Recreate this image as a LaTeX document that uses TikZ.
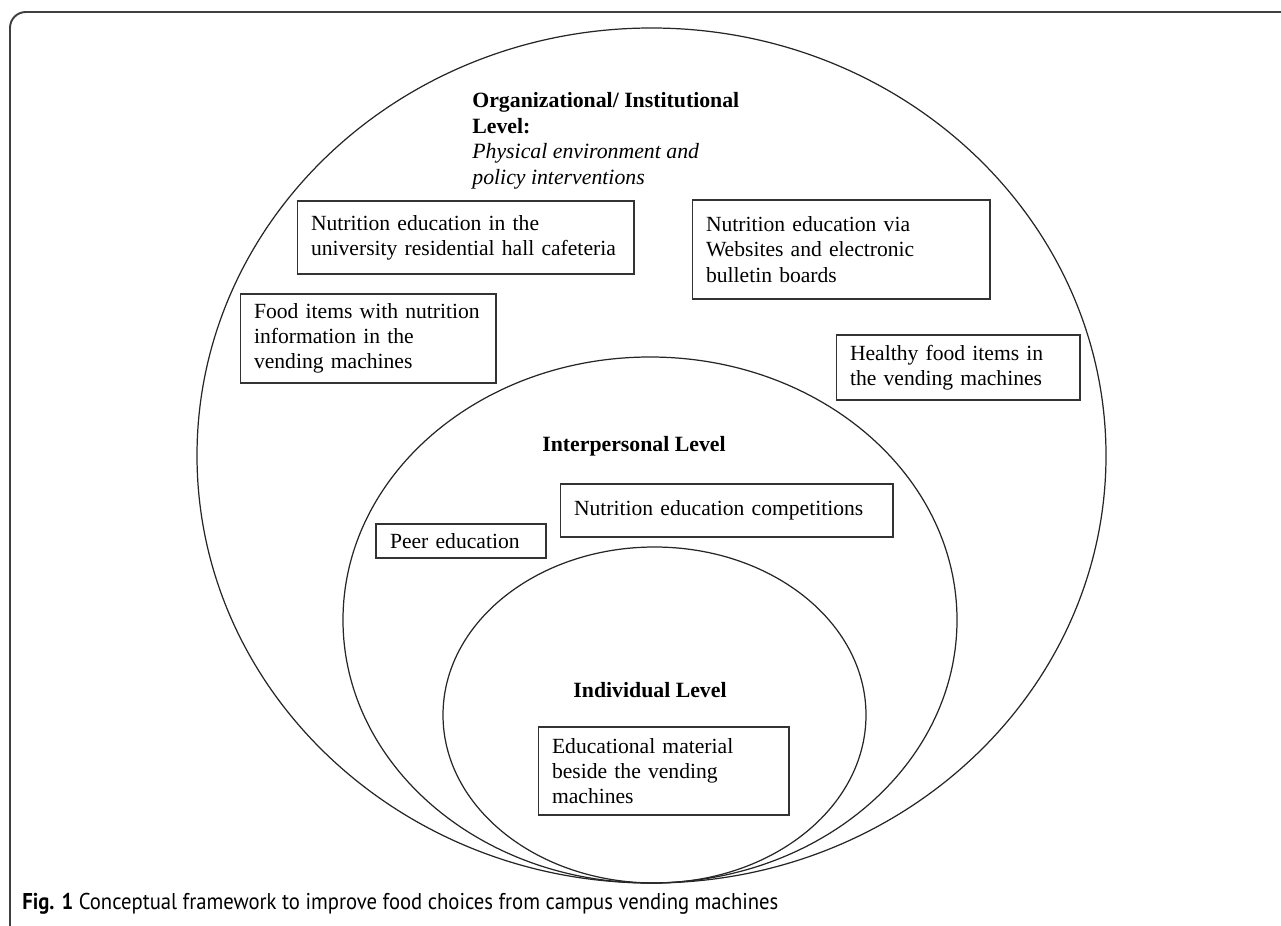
\documentclass[tikz,border=0pt]{standalone}
\usepackage{fontspec}
\setmainfont{Liberation Serif}
\newfontfamily\capfont{PT Sans}
\hyphenpenalty=10000
\newcommand\boxline[1]{\mbox{#1}}
\begin{document}
\begin{tikzpicture}[x=0.02cm,y=-0.02cm,
  ring/.style={draw=black!85, line width=0.7pt},
  itembox/.style={draw=black!80, line width=0.6pt, inner xsep=0.28cm, inner ysep=0pt,
    align=left, font=\fontsize{12.3}{14.4}\selectfont},
  lvl/.style={font=\fontsize{12.4}{14.4}\selectfont\bfseries, inner sep=0pt}]
\useasboundingbox (0,0) rectangle (1281,926);
% frame
\draw[black!75, line width=1.1pt, rounded corners=9] (10,940) -- (10,12) -- (1300,12);
% ellipses
\draw[ring] (651.5,455.5) ellipse [x radius=454.5, y radius=427.5];
\draw[ring] (650,620) ellipse [x radius=307, y radius=263];
\draw[ring] (654.5,715) ellipse [x radius=211.5, y radius=168];
% level labels
\node[anchor=north west, align=left, inner sep=0pt, font=\fontsize{12.4}{14.6}\selectfont] (org) at (472,92)
  {\textbf{Organizational/ Institutional}\\\textbf{Level:}\\\textit{Physical environment and}\\\textit{policy interventions}};
\node[lvl] (inter) at (634,446) {Interpersonal Level};
\node[lvl] (indiv) at (650,690) {Individual Level};
% boxes
\node[itembox, minimum height=1.46cm, text width=6.18cm] (b1) at (465.5,237.5)
  {\boxline{Nutrition education in the}\\\boxline{university residential hall cafeteria}};
\node[itembox, minimum height=1.98cm, text width=5.40cm] (b2) at (841,249.5)
  {\boxline{Nutrition education via}\\\boxline{Websites and electronic}\\\boxline{bulletin boards}};
\node[itembox, minimum height=1.78cm, text width=4.56cm] (b3) at (368,338.5)
  {\boxline{Food items with nutrition}\\\boxline{information in the}\\\boxline{vending machines}};
\node[itembox, minimum height=1.30cm, text width=4.32cm] (b4) at (958,367.5)
  {\boxline{Healthy food items in}\\\boxline{the vending machines}};
\node[itembox, minimum height=1.06cm, text width=6.10cm] (b5) at (726.5,510.5)
  {\boxline{Nutrition education competitions}};
\node[itembox, minimum height=0.68cm, text width=2.84cm] (b6) at (461,541)
  {\boxline{Peer education}};
\node[itembox, minimum height=1.76cm, text width=4.46cm] (b7) at (663.5,771)
  {\boxline{Educational material}\\\boxline{beside the vending}\\\boxline{machines}};
% caption
\node[anchor=base west, inner sep=0pt] (cap) at (22,909)
  {\capfont\fontsize{13}{15}\selectfont\scalebox{0.905}[1]{\textbf{Fig. 1} Conceptual framework to improve food choices from campus vending machines}};
\end{tikzpicture}
\end{document}
